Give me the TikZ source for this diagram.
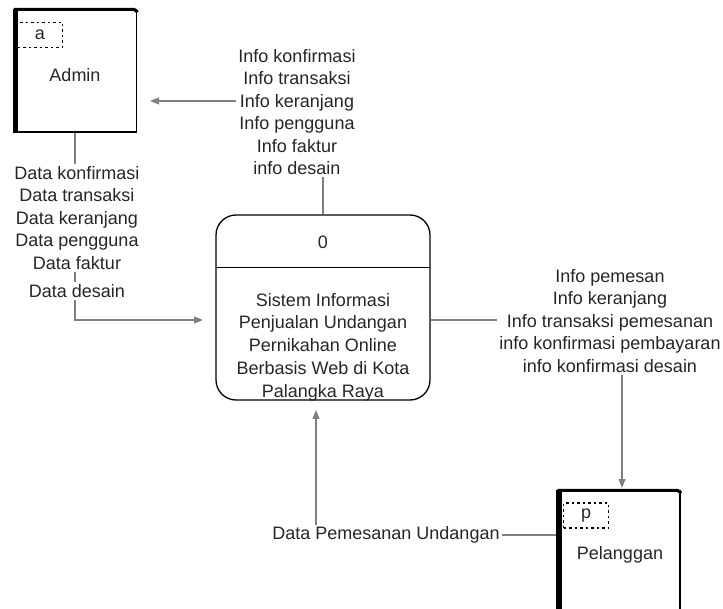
\documentclass[tikz,border=0pt]{standalone}
\usepackage{fontspec}
\setmainfont{Liberation Sans}
\usetikzlibrary{arrows.meta}

\begin{document}
\begin{tikzpicture}[x=1pt, y=-1pt,
	flowLine/.style={draw=black!50, line width=1.1pt},
	flowArrow/.style={flowLine, -{Triangle[length=9pt, width=7pt]}},
	flowLabel/.style={fill=white, align=center, inner sep=2pt, text=black!85, font=\fontsize{18}{22.5}\selectfont},
	entityBox/.style={rectangle, draw=black, line width=1.2pt, minimum width=123pt, minimum height=122pt, inner sep=0pt},
	idBox/.style={rectangle, draw=black, line width=1.2pt, dash pattern=on 2.5pt off 3pt, minimum width=45pt, minimum height=25pt, inner sep=0pt, text=black!85, font=\fontsize{18}{22}\selectfont},
	boxText/.style={align=center, text=black!85, font=\fontsize{18}{22.8}\selectfont}]
	\useasboundingbox (0,0) rectangle (723,609);
	\clip (0,0) rectangle (723,609);

	% draw admin entity
	\node[entityBox](adminBox) at (75,71){};
	\draw[line width=5pt] ([xshift=2.5pt]adminBox.south west) -- ([xshift=2.5pt]adminBox.north west);
	\draw[line width=3pt, rounded corners=2pt] ([xshift=1pt]adminBox.north west) -- ([xshift=-1pt]adminBox.north east) -- ([yshift=-3pt]adminBox.north east);
	\node[idBox](adminId) at (40,35){a};
	\node[boxText](adminName) at (75,75){Admin};

	% draw pelanggan entity
	\node[entityBox, minimum height=130pt](pelBox) at (618.5,556){};
	\draw[line width=6pt] ([xshift=3pt]pelBox.south west) -- ([xshift=3pt]pelBox.north west);
	\draw[line width=3pt, rounded corners=2pt] ([xshift=1pt]pelBox.north west) -- ([xshift=-1pt]pelBox.north east) -- ([yshift=-3pt]pelBox.north east);
	\node[idBox](pelId) at (586,515.5){p};
	\node[boxText](pelName) at (620,555){Pelanggan};

	% draw the process
	\node[rectangle, draw=black, line width=1.3pt, rounded corners=20pt, minimum width=214pt, minimum height=185pt](procBox) at (323,307.5){};
	\node[boxText, minimum width=214pt, minimum height=50pt, inner sep=0pt](procTitle) at (323,242){0};
	\draw[line width=1.3pt] (procTitle.south west) -- (procTitle.south east);
	\node[boxText](procText) at (323,347){Sistem Informasi\\Penjualan Undangan\\Pernikahan Online\\Berbasis Web di Kota\\Palangka Raya};

	% draw flows
	\coordinate(adminIn) at (150,101);
	\coordinate(procIn) at (203,320);
	\coordinate(pelIn) at (622,488);
	\coordinate(procBottomIn) at (316,410);
	\draw[flowArrow] (procBox.north) |- (adminIn);
	\draw[flowArrow] (adminBox.south) |- (procIn);
	\draw[flowArrow] ([yshift=-12.5pt]procBox.east) -| (pelIn);
	\draw[flowArrow] ([yshift=21pt]pelBox.west) -| (procBottomIn);

	% flow labels
	\node[flowLabel](infoAdmin) at (297,112){Info konfirmasi\\Info transaksi\\Info keranjang\\Info pengguna\\Info faktur\\ info desain};
	\node[flowLabel](dataAdmin) at (77,218){Data konfirmasi\\Data transaksi\\Data keranjang\\Data pengguna\\Data faktur};
	\node[flowLabel](dataDesain) at (77,291){Data desain};
	\node[flowLabel](infoPel) at (610,321){Info pemesan\\Info keranjang\\Info transaksi pemesanan\\info konfirmasi pembayaran\\info konfirmasi desain};
	\node[flowLabel](dataPesan) at (386,535){Data Pemesanan Undangan};
\end{tikzpicture}
\end{document}
